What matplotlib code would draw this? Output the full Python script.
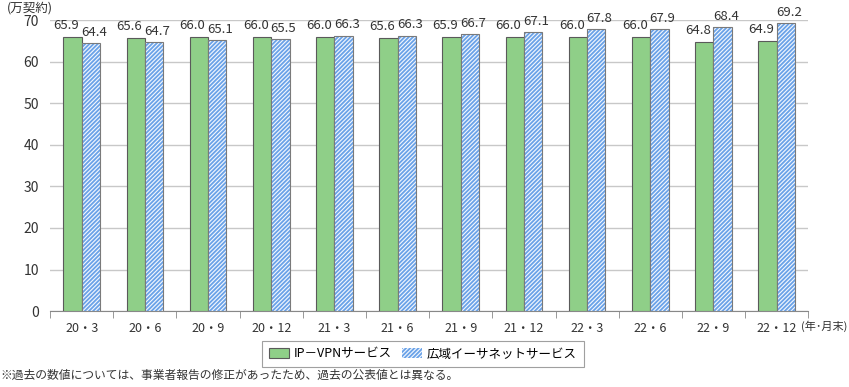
import matplotlib
matplotlib.use("Agg")
import matplotlib.pyplot as plt
import numpy as np

plt.rcParams['font.family'] = ['Noto Sans CJK JP', 'DejaVu Sans']
plt.rcParams['hatch.linewidth'] = 1.3

categories = ["20・3", "20・6", "20・9", "20・12", "21・3", "21・6", "21・9", "21・12",
              "22・3", "22・6", "22・9", "22・12"]
ipvpn = [65.9, 65.6, 66.0, 66.0, 66.0, 65.6, 65.9, 66.0, 66.0, 66.0, 64.8, 64.9]
ether = [64.4, 64.7, 65.1, 65.5, 66.3, 66.3, 66.7, 67.1, 67.8, 67.9, 68.4, 69.2]
series_names = ["IP－VPNサービス", "広域イーサネットサービス"]

fig = plt.figure(figsize=(8.49, 3.87), dpi=100)
ax = fig.add_axes([0.059, 0.196, 0.893, 0.752])

x = np.arange(len(categories))
w = 0.29
b1 = ax.bar(x - w/2, ipvpn, w, color='#8fcf88', edgecolor='#5a5a5a', linewidth=0.8,
            label=series_names[0], zorder=3)
b2 = ax.bar(x + w/2, ether, w, color='#f4f8fe', edgecolor='#6aa2e8', linewidth=0,
            hatch='////////', label=series_names[1], zorder=3)
ax.bar(x + w/2, ether, w, color='none', edgecolor='#7a7a7a', linewidth=0.8, zorder=4)

for xi, v in zip(x, ipvpn):
    ax.text(xi - w/2 - 0.1, v + 1.2, f"{v:.1f}", ha='center', va='bottom',
            fontsize=9.5, color='#333333')
for xi, v in zip(x, ether):
    ax.text(xi + w/2 + 0.05, v + 1.0, f"{v:.1f}", ha='center', va='bottom',
            fontsize=9.5, color='#333333')

ax.set_xlim(-0.5, len(categories) - 0.5)
ax.set_ylim(0, 70)
ax.set_yticks(range(0, 71, 10))
ax.tick_params(axis='y', length=0, labelsize=10, colors='#333333', pad=8)
ax.set_xticks(x)
ax.set_xticklabels(categories, fontsize=9, color='#333333')
ax.tick_params(axis='x', length=0, pad=8)
ax.set_xticks(np.arange(-0.5, len(categories), 1), minor=True)
ax.tick_params(axis='x', which='minor', length=5, color='#888888', direction='out')

ax.grid(axis='y', color='#c8c8c8', linewidth=1.0, zorder=0)
for s in ['top', 'right', 'left']:
    ax.spines[s].set_visible(False)
ax.spines['bottom'].set_color('#888888')

fig.text(0.008, 0.978, "(万契約)", fontsize=9, color='#333333', ha='left', va='center')
fig.text(0.998, 0.158, "(年･月末)", ha='right', va='center', fontsize=8, color='#333333')

leg = fig.legend(handles=[b1, b2], labels=series_names, loc='center',
                 bbox_to_anchor=(0.498, 0.085), ncol=2, frameon=True, fancybox=False,
                 fontsize=9, handlelength=1.6, handleheight=0.9, columnspacing=0.8,
                 handletextpad=0.4, borderpad=0.55)
leg.get_frame().set_edgecolor('#888888')
leg.get_frame().set_linewidth(0.8)

fig.text(0.0, 0.012, "※過去の数値については、事業者報告の修正があったため、過去の公表値とは異なる。",
         fontsize=8.5, color='#333333', ha='left', va='bottom')

fig.savefig("out.png", dpi=100)
